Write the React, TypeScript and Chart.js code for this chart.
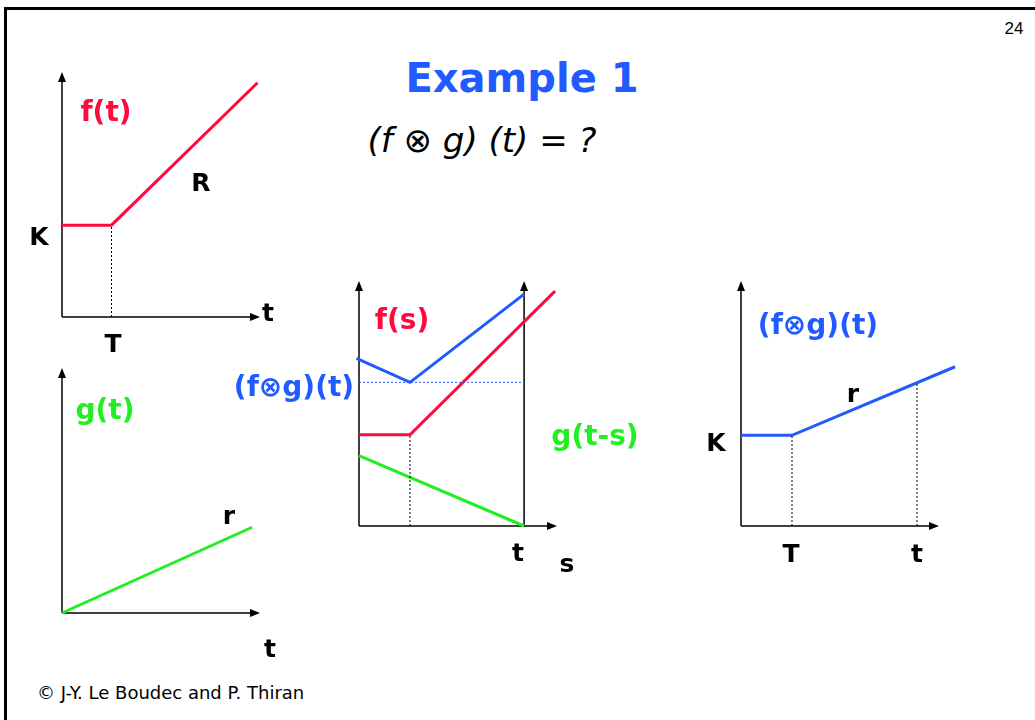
import React, { useEffect, useRef } from "react";
import { Chart, registerables } from "chart.js";

Chart.register(...registerables);

const RED = "#ff0a3c";
const GREEN = "#22ee22";
const BLUE = "#1f5bff";
const BLACK = "#000000";
const FONT = "'Comic Sans MS', 'DejaVu Sans', sans-serif";

// axis ranges (abstract units) shared by the four panels
const XMAX = 8;
const YMAX = 8;

// Panel 1: f(t)
const fT = [0, 2, 7.9];
const fV = [3, 3, 7.65];
const fDotT = [2, 2];
const fDotV = [0, 3];

// Panel 2: g(t)
const gT = [0, 7.68];
const gV = [0, 2.8];

// Panel 3: f(s), g(t-s), f(s)+g(t-s)
const tMark = 6.67;
const sF = [0, 2.06, 7.92];
const vF = [2.98, 2.98, 7.67];
const sG = [0, tMark];
const vG = [2.3, 0];
const sB = [-0.1, 2.06, tMark];
const vB = [5.47, 4.69, 7.57];
const sBDot = [0, tMark];
const vBDot = [4.69, 4.69];
const sDot = [2.06, 2.06];
const vDot = [0, 2.98];

// Panel 4: (f⊗g)(t)
const hT = [0, 2.06, 8.65];
const hV = [2.96, 2.96, 5.2];
const hDot1T = [2.06, 2.06];
const hDot1V = [0, 2.96];
const hDot2T = [7.11, 7.11];
const hDot2V = [0, 4.65];

const PLOT_W = 198;
const PLOT_H = 245;
const PAD = 24;

const pts = (xs: number[], ys: number[]) => xs.map((x, i) => ({ x, y: ys[i] }));

const line = (xs: number[], ys: number[], color: string, width: number, dash: number[] = []) => ({
  data: pts(xs, ys),
  showLine: true,
  borderColor: color,
  backgroundColor: color,
  borderWidth: width,
  borderDash: dash,
  pointRadius: 0,
  fill: false,
  clip: false as any,
  borderCapStyle: "butt",
  tension: 0,
});

const arrowPlugin = {
  id: "arrowAxes",
  beforeDatasetsDraw(chart: any, _args: any, opts: any) {
    const { ctx, chartArea, scales } = chart;
    const x0 = scales.x.getPixelForValue(0);
    const y0 = scales.y.getPixelForValue(0);
    const top = chartArea.top;
    const right = chartArea.right;
    ctx.save();
    ctx.strokeStyle = BLACK;
    ctx.fillStyle = BLACK;
    ctx.lineWidth = 1.5;
    const vArrow = (x: number) => {
      ctx.beginPath();
      ctx.moveTo(x, y0);
      ctx.lineTo(x, top + 6);
      ctx.stroke();
      ctx.beginPath();
      ctx.moveTo(x, top);
      ctx.lineTo(x - 4, top + 10);
      ctx.lineTo(x + 4, top + 10);
      ctx.closePath();
      ctx.fill();
    };
    vArrow(x0);
    (opts.extra || []).forEach((v: number) => vArrow(scales.x.getPixelForValue(v)));
    ctx.beginPath();
    ctx.moveTo(x0, y0);
    ctx.lineTo(right - 6, y0);
    ctx.stroke();
    ctx.beginPath();
    ctx.moveTo(right, y0);
    ctx.lineTo(right - 10, y0 - 4);
    ctx.lineTo(right - 10, y0 + 4);
    ctx.closePath();
    ctx.fill();
    ctx.restore();
  },
};

type PanelProps = { ox: number; oy: number; datasets: any[]; extra?: number[] };

function Panel({ ox, oy, datasets, extra = [] }: PanelProps) {
  const ref = useRef<HTMLCanvasElement>(null);
  useEffect(() => {
    if (!ref.current) return;
    const chart = new Chart(ref.current, {
      type: "scatter",
      data: { datasets },
      options: {
        animation: false,
        responsive: false,
        events: [],
        layout: { padding: PAD },
        plugins: {
          legend: { display: false },
          tooltip: { enabled: false },
          arrowAxes: { extra },
        } as any,
        scales: {
          x: { type: "linear", min: 0, max: XMAX, display: false },
          y: { type: "linear", min: 0, max: YMAX, display: false },
        },
      },
      plugins: [arrowPlugin as any],
    });
    return () => chart.destroy();
  }, []);
  const w = PLOT_W + 2 * PAD;
  const h = PLOT_H + 2 * PAD;
  return (
    <canvas
      ref={ref}
      width={w}
      height={h}
      style={{ position: "absolute", left: ox - PAD, top: oy - PLOT_H - PAD, width: w, height: h }}
    />
  );
}

type LabelProps = {
  x: number;
  y: number;
  text: string;
  color?: string;
  size?: number;
  weight?: number;
  italic?: boolean;
  family?: string;
};

function Label({ x, y, text, color = BLACK, size = 25, weight = 700, italic = false, family = FONT }: LabelProps) {
  return (
    <div
      style={{
        position: "absolute",
        left: x,
        top: y,
        transform: "translate(-50%, -50%)",
        color,
        fontSize: size,
        fontWeight: weight,
        fontStyle: italic ? "italic" : "normal",
        fontFamily: family,
        lineHeight: 1,
        whiteSpace: "nowrap",
      }}
    >
      {text}
    </div>
  );
}

const CONV = "(f\u2297g)(t)";
const QUESTION = "(f \u2297 g) (t) = ?";
const FOOTER = "\u00a9 J-Y. Le Boudec and P. Thiran";
const CL = 28; // coloured label size

export default function App() {
  return (
    <div
      style={{
        position: "fixed",
        left: 0,
        top: 0,
        width: 1035,
        height: 720,
        overflow: "hidden",
        background: "#ffffff",
      }}
    >
      <div
        style={{
          position: "absolute",
          left: 4,
          top: 7,
          width: 1100,
          height: 800,
          border: "3px solid #000",
          boxSizing: "border-box",
        }}
      />
      <Label x={1014} y={28} text="24" size={17} weight={400} family="'Liberation Sans', Arial, sans-serif" />
      <Label x={522} y={78} text="Example 1" color={BLUE} size={40} />
      <Label x={482} y={140} text={QUESTION} size={34} weight={400} italic />

      {/* Panel 1 */}
      <Panel
        ox={62}
        oy={317}
        datasets={[line(fDotT, fDotV, BLACK, 1, [2, 2]), line(fT, fV, RED, 3)]}
      />
      <Label x={106} y={112} text="f(t)" color={RED} size={CL} />
      <Label x={201} y={182} text="R" />
      <Label x={39} y={236} text="K" />
      <Label x={268} y={312} text="t" />
      <Label x={113} y={343} text="T" />

      {/* Panel 2 */}
      <Panel ox={62} oy={613} datasets={[line(gT, gV, GREEN, 3)]} />
      <Label x={105} y={410} text="g(t)" color={GREEN} size={CL} />
      <Label x={229} y={515} text="r" />
      <Label x={270} y={648} text="t" />

      {/* Panel 3 */}
      <Panel
        ox={359}
        oy={526}
        extra={[tMark]}
        datasets={[
          line(sDot, vDot, BLACK, 1, [2, 2]),
          line(sBDot, vBDot, BLUE, 1, [2, 2]),
          line(sG, vG, GREEN, 3),
          line(sF, vF, RED, 3),
          line(sB, vB, BLUE, 3),
        ]}
      />
      <Label x={402} y={320} text="f(s)" color={RED} size={CL} />
      <Label x={294} y={387} text={CONV} color={BLUE} size={CL} />
      <Label x={595} y={436} text="g(t-s)" color={GREEN} size={CL} />
      <Label x={518} y={552} text="t" />
      <Label x={567} y={563} text="s" />

      {/* Panel 4 */}
      <Panel
        ox={741}
        oy={526}
        datasets={[
          line(hDot1T, hDot1V, BLACK, 1, [2, 2]),
          line(hDot2T, hDot2V, BLACK, 1, [2, 2]),
          line(hT, hV, BLUE, 3),
        ]}
      />
      <Label x={818} y={325} text={CONV} color={BLUE} size={CL} />
      <Label x={853} y={393} text="r" />
      <Label x={716} y={442} text="K" />
      <Label x={791} y={553} text="T" />
      <Label x={917} y={553} text="t" />

      <div
        style={{
          position: "absolute",
          left: 37,
          top: 693,
          transform: "translateY(-50%)",
          fontFamily: FONT,
          fontSize: 18,
          lineHeight: 1,
          whiteSpace: "nowrap",
          color: "#000",
        }}
      >
        {FOOTER}
      </div>
    </div>
  );
}
